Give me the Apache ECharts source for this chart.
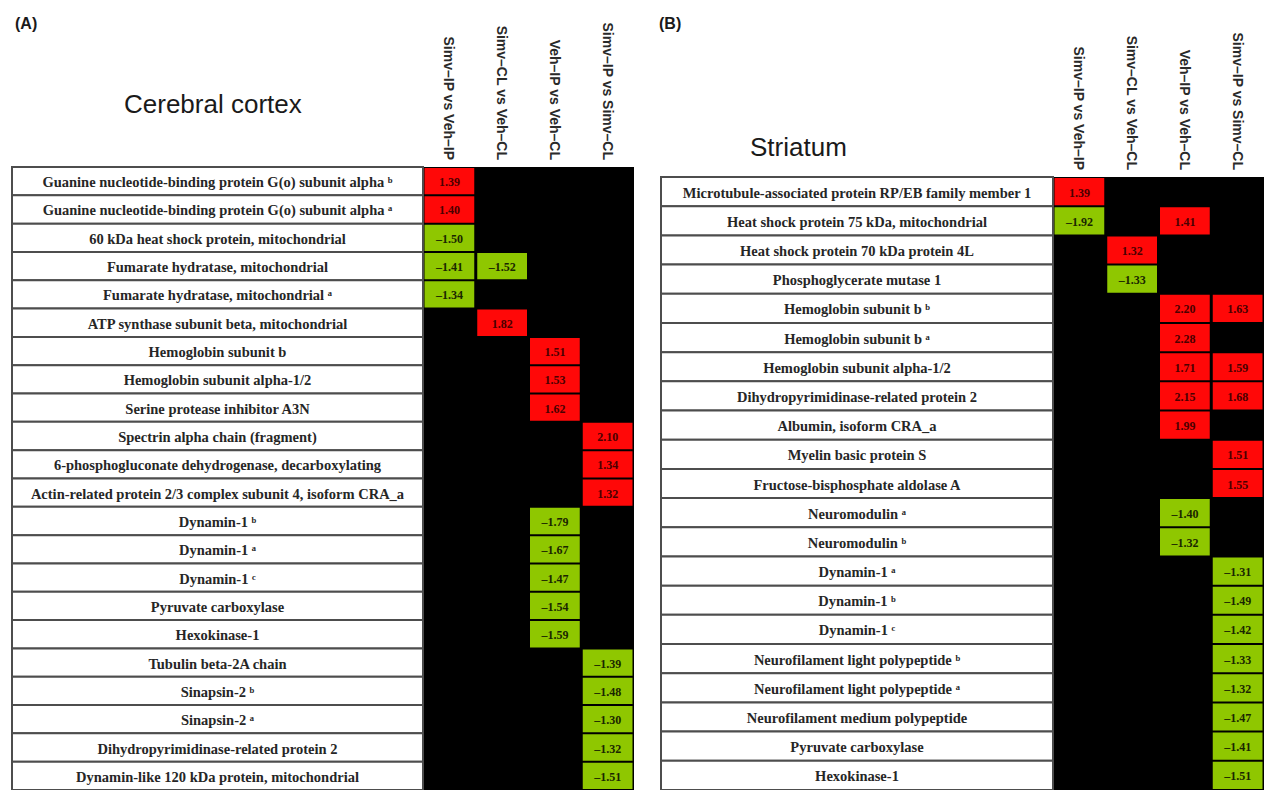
<!DOCTYPE html>
<html><head><meta charset="utf-8">
<script src="https://cdn.jsdelivr.net/npm/echarts@6/dist/echarts.min.js"></script>
<style>html,body{margin:0;padding:0;background:#fff}#c{width:1264px;height:790px}</style>
</head><body><div id="c"></div>
<script>
// ---- data ----
const comparisons = ['Simv–IP vs Veh–IP', 'Simv–CL vs Veh–CL', 'Veh–IP vs Veh–CL', 'Simv–IP vs Simv–CL'];

const cortexProteins = [
  'Guanine nucleotide-binding protein G(o) subunit alpha ᵇ',
  'Guanine nucleotide-binding protein G(o) subunit alpha ᵃ',
  '60 kDa heat shock protein, mitochondrial',
  'Fumarate hydratase, mitochondrial',
  'Fumarate hydratase, mitochondrial ᵃ',
  'ATP synthase subunit beta, mitochondrial',
  'Hemoglobin subunit b',
  'Hemoglobin subunit alpha-1/2',
  'Serine protease inhibitor A3N',
  'Spectrin alpha chain (fragment)',
  '6-phosphogluconate dehydrogenase, decarboxylating',
  'Actin-related protein 2/3 complex subunit 4, isoform CRA_a',
  'Dynamin-1 ᵇ',
  'Dynamin-1 ᵃ',
  'Dynamin-1 ᶜ',
  'Pyruvate carboxylase',
  'Hexokinase-1',
  'Tubulin beta-2A chain',
  'Sinapsin-2 ᵇ',
  'Sinapsin-2 ᵃ',
  'Dihydropyrimidinase-related protein 2',
  'Dynamin-like 120 kDa protein, mitochondrial'
];
const cortexSimvIPvsVehIP  = [1.39, 1.40, -1.50, -1.41, -1.34, null, null, null, null, null, null, null, null, null, null, null, null, null, null, null, null, null];
const cortexSimvCLvsVehCL  = [null, null, null, -1.52, null, 1.82, null, null, null, null, null, null, null, null, null, null, null, null, null, null, null, null];
const cortexVehIPvsVehCL   = [null, null, null, null, null, null, 1.51, 1.53, 1.62, null, null, null, -1.79, -1.67, -1.47, -1.54, -1.59, null, null, null, null, null];
const cortexSimvIPvsSimvCL = [null, null, null, null, null, null, null, null, null, 2.10, 1.34, 1.32, null, null, null, null, null, -1.39, -1.48, -1.30, -1.32, -1.51];

const striatumProteins = [
  'Microtubule-associated protein RP/EB family member 1',
  'Heat shock protein 75 kDa, mitochondrial',
  'Heat shock protein 70 kDa protein 4L',
  'Phosphoglycerate mutase 1',
  'Hemoglobin subunit b ᵇ',
  'Hemoglobin subunit b ᵃ',
  'Hemoglobin subunit alpha-1/2',
  'Dihydropyrimidinase-related protein 2',
  'Albumin, isoform CRA_a',
  'Myelin basic protein S',
  'Fructose-bisphosphate aldolase A',
  'Neuromodulin ᵃ',
  'Neuromodulin ᵇ',
  'Dynamin-1 ᵃ',
  'Dynamin-1 ᵇ',
  'Dynamin-1 ᶜ',
  'Neurofilament light polypeptide ᵇ',
  'Neurofilament light polypeptide ᵃ',
  'Neurofilament medium polypeptide',
  'Pyruvate carboxylase',
  'Hexokinase-1'
];
const striatumSimvIPvsVehIP  = [1.39, -1.92, null, null, null, null, null, null, null, null, null, null, null, null, null, null, null, null, null, null, null];
const striatumSimvCLvsVehCL  = [null, null, 1.32, -1.33, null, null, null, null, null, null, null, null, null, null, null, null, null, null, null, null, null];
const striatumVehIPvsVehCL   = [null, 1.41, null, null, 2.20, 2.28, 1.71, 2.15, 1.99, null, null, -1.40, -1.32, null, null, null, null, null, null, null, null];
const striatumSimvIPvsSimvCL = [null, null, null, null, 1.63, null, 1.59, 1.68, null, 1.51, 1.55, null, null, -1.31, -1.49, -1.42, -1.33, -1.32, -1.47, -1.41, -1.51];

// ---- build ----
function cellData(cols) {
  const out = [];
  cols.forEach((arr, j) => arr.forEach((v, i) => { if (v !== null) out.push([j, i, v]); }));
  return out;
}
const RED = '#ff0808', GREEN = '#8fc700';
function fmt(v) { return (v < 0 ? '–' : '') + Math.abs(v).toFixed(2); }
function cellRender(params, api) {
  const v = api.value(2);
  const p = api.coord([api.value(0), api.value(1)]);
  const s = api.size([1, 1]);
  const w = s[0] - 3, h = s[1] - 2;
  return {
    type: 'group', children: [
      { type: 'rect', shape: { x: p[0] - w / 2, y: p[1] - h / 2, width: w, height: h }, style: { fill: v > 0 ? RED : GREEN } },
      { type: 'text', style: { text: fmt(v), x: p[0], y: p[1] + 1, align: 'center', verticalAlign: 'middle',
        font: 'bold 12px "Liberation Serif", "Times New Roman", serif', fill: v > 0 ? '#4a0000' : '#1a2600' } }
    ]
  };
}
function labelRender(names) {
  return function (params, api) {
    const p = api.coord([api.value(0), api.value(1)]);
    const s = api.size([1, 1]);
    return {
      type: 'group', children: [
        { type: 'rect', shape: { x: p[0] - s[0] / 2, y: p[1] - s[1] / 2, width: s[0], height: s[1] },
          style: { fill: '#fff', stroke: '#4d4d4d', lineWidth: 2 } },
        { type: 'text', style: { text: names[params.dataIndex], x: p[0], y: p[1] + 1, align: 'center', verticalAlign: 'middle',
          font: 'bold 14.5px "Liberation Serif", "Times New Roman", serif', fill: '#262626' } }
      ]
    };
  };
}

const panels = [
  { names: cortexProteins, cols: [cortexSimvIPvsVehIP, cortexSimvCLvsVehCL, cortexVehIPvsVehCL, cortexSimvIPvsSimvCL],
    labelLeft: 12, labelWidth: 411, cellLeft: 423, cellWidth: 211, top: 167, height: 623 },
  { names: striatumProteins, cols: [striatumSimvIPvsVehIP, striatumSimvCLvsVehCL, striatumVehIPvsVehCL, striatumSimvIPvsSimvCL],
    labelLeft: 661, labelWidth: 392, cellLeft: 1053, cellWidth: 213, top: 177, height: 613 }
];

const grid = [], xAxis = [], yAxis = [], series = [];
panels.forEach((pn, k) => {
  const gL = grid.length;
  grid.push({ left: pn.labelLeft, top: pn.top, width: pn.labelWidth, height: pn.height, containLabel: false });
  grid.push({ left: pn.cellLeft, top: pn.top, width: pn.cellWidth, height: pn.height, containLabel: false,
    show: true, backgroundColor: '#000', borderWidth: 0 });
  xAxis.push({ type: 'category', gridIndex: gL, data: ['Protein'], show: false });
  xAxis.push({ type: 'category', gridIndex: gL + 1, data: comparisons, position: 'top',
    axisLine: { show: false }, axisTick: { show: false },
    axisLabel: { rotate: 90, interval: 0, margin: 7, fontSize: 14, fontWeight: 'bold',
      fontFamily: '"Liberation Sans", Arial, sans-serif', color: '#2a2a2a' } });
  yAxis.push({ type: 'category', gridIndex: gL, data: pn.names, inverse: true, show: false });
  yAxis.push({ type: 'category', gridIndex: gL + 1, data: pn.names, inverse: true, show: false });
  series.push({ type: 'custom', xAxisIndex: gL, yAxisIndex: gL, encode: { x: 0, y: 1 },
    data: pn.names.map((n, i) => [0, i]), renderItem: labelRender(pn.names), silent: true });
  series.push({ type: 'custom', xAxisIndex: gL + 1, yAxisIndex: gL + 1, encode: { x: 0, y: 1 },
    data: cellData(pn.cols), renderItem: cellRender, silent: true });
});

const tStyle = { fontFamily: '"Liberation Sans", Arial, sans-serif', color: '#1a1a1a' };
const chart = echarts.init(document.getElementById('c'), null, { renderer: 'svg' });
chart.setOption({
  backgroundColor: '#fff',
  animation: false,
  title: [
    { text: '(A)', left: 10, top: 10, textStyle: Object.assign({ fontSize: 16, fontWeight: 'bold' }, tStyle) },
    { text: 'Cerebral cortex', left: 119, top: 86, textStyle: Object.assign({ fontSize: 26, fontWeight: 'normal' }, tStyle) },
    { text: '(B)', left: 654, top: 10, textStyle: Object.assign({ fontSize: 16, fontWeight: 'bold' }, tStyle) },
    { text: 'Striatum', left: 745, top: 129, textStyle: Object.assign({ fontSize: 26, fontWeight: 'normal' }, tStyle) }
  ],
  grid, xAxis, yAxis, series
});
</script></body></html>
